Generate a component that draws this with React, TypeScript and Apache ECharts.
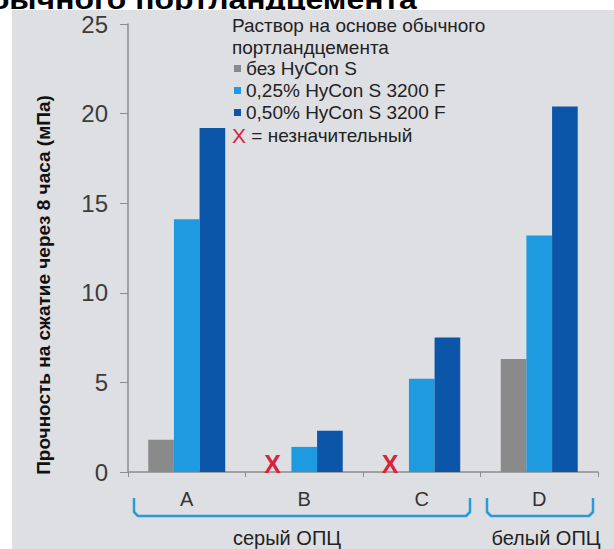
import React, { useEffect, useRef } from "react";
import * as echarts from "echarts";

const categories = ["A", "B", "C", "D"];
const seriesNames = ["без HyCon S", "0,25% HyCon S 3200 F", "0,50% HyCon S 3200 F"];
// null = незначительный (marked with a red X)
const noHyCon: (number | null)[] = [1.8, null, null, 6.3];
const hycon025 = [14.1, 1.4, 5.2, 13.2];
const hycon050 = [19.2, 2.3, 7.5, 20.4];
const yMin = 0;
const yMax = 25;
const yInterval = 5;
const groupLabels = ["серый ОПЦ", "белый ОПЦ"];
const legendHeading = ["Раствор на основе обычного", "портландцемента"];
const insignificantNote = "= незначительный";
const yAxisTitle = "Прочность на сжатие через 8 часа (мПа)";
const topTitle = "обычного портландцемента";

const FONT = "'Liberation Sans', Arial, Helvetica, sans-serif";
const GRAY = "#8a8a8a";
const LIGHT = "#1e9be0";
const DARK = "#0b56a8";
const RED = "#d8233c";
const BRACKET = "#2b9ad8";
const PANEL = "rgb(222, 223, 226)";

export default function App() {
  const ref = useRef<HTMLDivElement>(null);

  useEffect(() => {
    if (!ref.current) return;
    const chart = echarts.init(ref.current, null, { renderer: "svg" });

    const grayData = noHyCon.map((v) =>
      v === null
        ? {
            value: 0,
            label: {
              show: true,
              formatter: "X",
              position: "top",
              distance: 0,
              offset: [-6, 4],
              color: RED,
              fontSize: 25,
              fontWeight: "bold",
              fontFamily: FONT,
            },
          }
        : v
    );

    const option: any = {
      animation: false,
      backgroundColor: "transparent",
      textStyle: { fontFamily: FONT },
      grid: { left: 128, right: 16, top: 24, bottom: 77, containLabel: false },
      legend: {
        orient: "vertical",
        left: 234,
        top: 59,
        padding: 0,
        itemWidth: 7,
        itemHeight: 7,
        itemGap: 3,
        icon: "rect",
        selectedMode: false,
        data: seriesNames,
        textStyle: { fontSize: 19, color: "#222", fontFamily: FONT, padding: [0, 0, 0, 0] },
      },
      xAxis: {
        type: "category",
        data: categories,
        axisLine: { show: true, lineStyle: { color: "#8c8c8c", width: 1.5 } },
        axisTick: { show: true, length: 5, lineStyle: { color: "#8c8c8c" } },
        axisLabel: { fontSize: 20, color: "#333", margin: 17, fontFamily: FONT },
      },
      yAxis: {
        type: "value",
        min: yMin,
        max: yMax,
        interval: yInterval,
        axisLine: { show: true, lineStyle: { color: "#8c8c8c", width: 1.5 } },
        axisTick: { show: true, length: 8, lineStyle: { color: "#8c8c8c" } },
        axisLabel: { fontSize: 24, color: "#3c3c3c", margin: 20, fontFamily: FONT },
        splitLine: { show: false },
      },
      series: [
        {
          name: seriesNames[0],
          type: "bar",
          data: grayData,
          itemStyle: { color: GRAY },
          barGap: "0%",
          barCategoryGap: "34.5%",
        },
        {
          name: seriesNames[1],
          type: "bar",
          data: hycon025,
          itemStyle: { color: LIGHT },
          barGap: "0%",
          barCategoryGap: "34.5%",
        },
        {
          name: seriesNames[2],
          type: "bar",
          data: hycon050,
          itemStyle: { color: DARK },
          barGap: "0%",
          barCategoryGap: "34.5%",
        },
      ],
      graphic: [
        {
          type: "polygon",
          z: -4,
          silent: true,
          shape: {
            points: [
              [12, 10],
              [614, 10],
              [614, 549],
              [12, 549],
            ],
          },
          style: { fill: PANEL, stroke: "none" },
        },
        {
          type: "text",
          x: 43,
          y: 285,
          rotation: Math.PI / 2,
          style: {
            text: yAxisTitle,
            fontSize: 19,
            fontWeight: "bold",
            fontFamily: FONT,
            fill: "#111",
            textAlign: "center",
            textVerticalAlign: "middle",
          },
        },
        {
          type: "text",
          x: 232,
          y: 14,
          style: {
            text: legendHeading.join("\n"),
            fontSize: 19,
            lineHeight: 22,
            fontFamily: FONT,
            fill: "#222",
            textAlign: "left",
            textVerticalAlign: "top",
          },
        },
        {
          type: "text",
          x: 232,
          y: 135,
          style: {
            text: "{x|X} " + insignificantNote,
            fontSize: 19,
            fontFamily: FONT,
            fill: "#222",
            textAlign: "left",
            textVerticalAlign: "middle",
            rich: {
              x: { fill: RED, fontSize: 21, fontFamily: FONT },
            },
          },
        },
        {
          type: "polyline",
          shape: {
            points: [
              [134, 498],
              [134, 512],
              [138, 516],
              [466, 516],
              [470, 512],
              [470, 498],
            ],
          },
          style: { stroke: BRACKET, lineWidth: 2.5, fill: null, lineJoin: "round" },
        },
        {
          type: "polyline",
          shape: {
            points: [
              [487, 498],
              [487, 512],
              [491, 516],
              [589, 516],
              [593, 512],
              [593, 498],
            ],
          },
          style: { stroke: BRACKET, lineWidth: 2.5, fill: null, lineJoin: "round" },
        },
        {
          type: "text",
          x: 287,
          y: 538,
          style: {
            text: groupLabels[0],
            fontSize: 20,
            fontFamily: FONT,
            fill: "#222",
            textAlign: "center",
            textVerticalAlign: "middle",
          },
        },
        {
          type: "text",
          x: 546,
          y: 538,
          style: {
            text: groupLabels[1],
            fontSize: 20,
            fontFamily: FONT,
            fill: "#222",
            textAlign: "center",
            textVerticalAlign: "middle",
          },
        },
      ],
    };

    chart.setOption(option);
    return () => chart.dispose();
  }, []);

  return (
    <div
      style={{
        position: "absolute",
        left: 0,
        top: 0,
        width: 614,
        height: 549,
        overflow: "hidden",
        backgroundColor: "#ffffff",
      }}
    >
      <div
        style={{
          position: "absolute",
          left: 12,
          top: 10,
          width: 602,
          height: 539,
          backgroundColor: PANEL,
        }}
      />
      <div
        ref={ref}
        style={{ position: "absolute", left: 0, top: 0, width: 614, height: 549 }}
      />
      <div
        style={{
          position: "absolute",
          left: 0,
          top: 0,
          width: 614,
          height: 10,
          overflow: "hidden",
          zIndex: 5,
          pointerEvents: "none",
        }}
      >
        <div
          style={{
            position: "absolute",
            right: 197,
            top: -10,
            height: 20,
            fontFamily: FONT,
            fontWeight: "bold",
            fontSize: 28,
            lineHeight: "20px",
            whiteSpace: "nowrap",
            color: "#000",
            transform: "scaleX(1.14)",
            transformOrigin: "right top",
          }}
        >
          {topTitle}
        </div>
      </div>
    </div>
  );
}
